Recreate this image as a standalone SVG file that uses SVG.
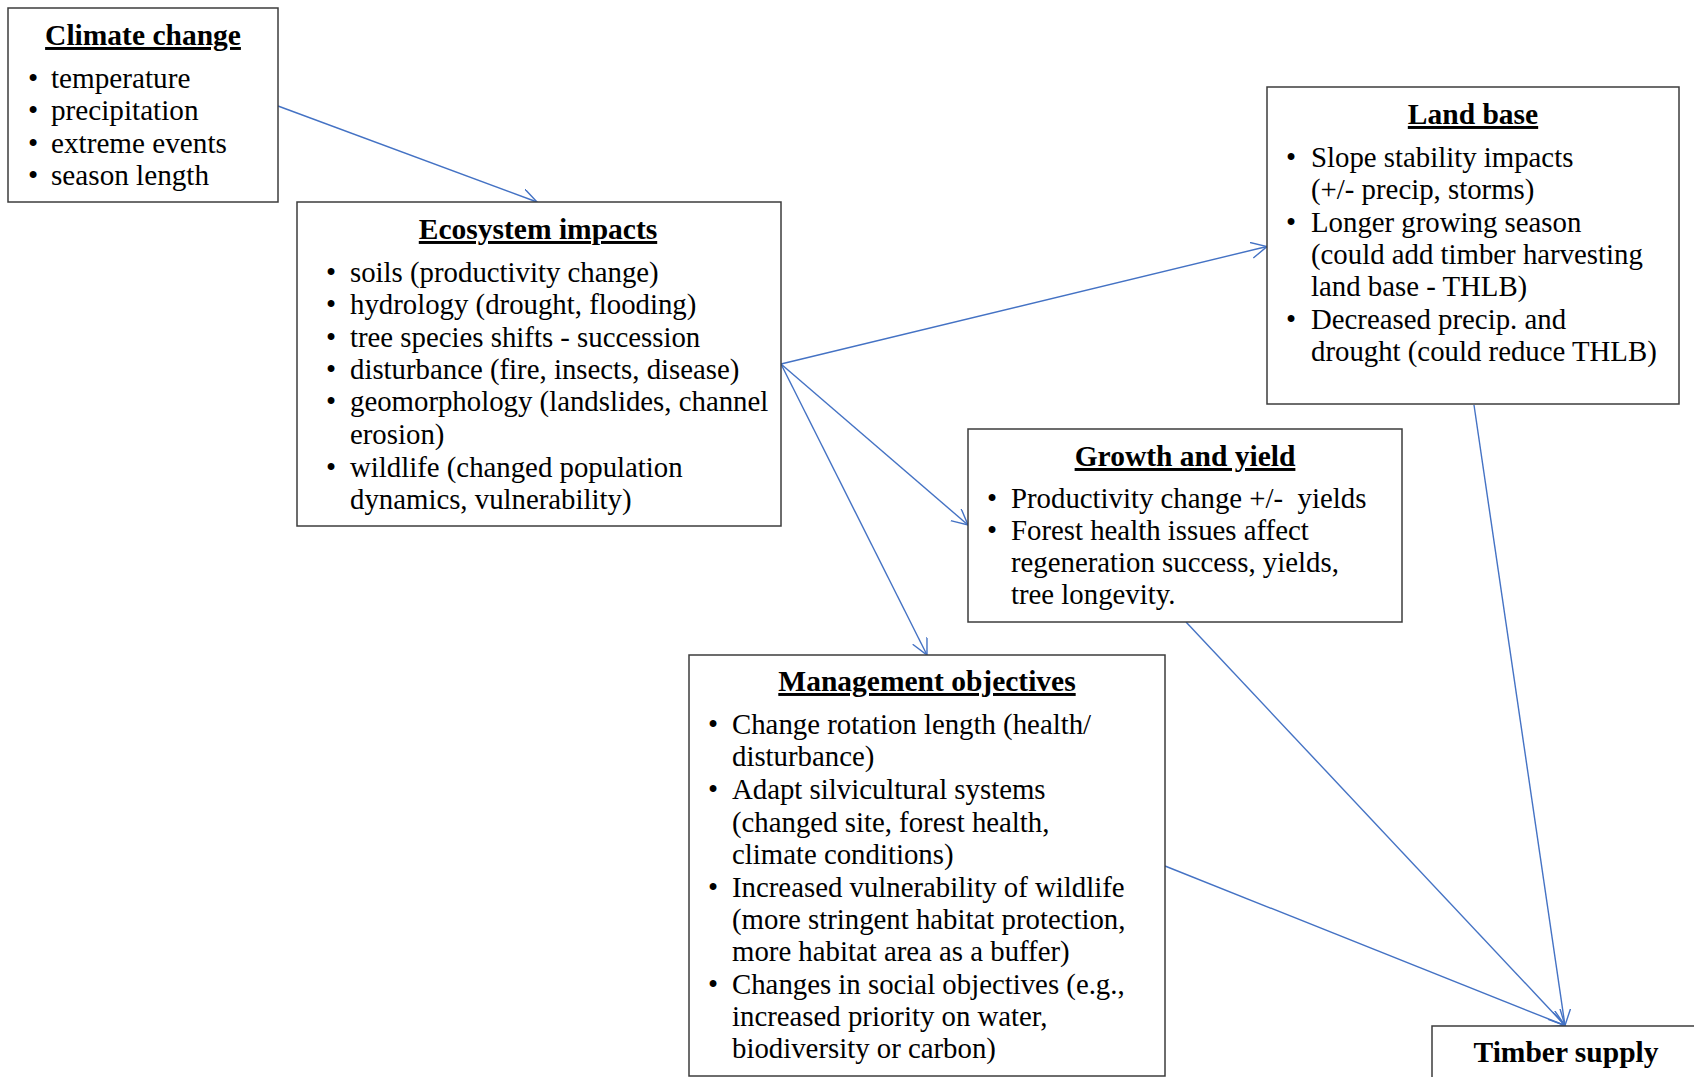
<svg xmlns="http://www.w3.org/2000/svg" width="1694" height="1077" viewBox="0 0 1694 1077">
<style>
.box{fill:#fff;stroke:#3c3c3c;stroke-width:1.5}
.t{font-family:"Liberation Serif","Times New Roman",serif;font-size:29.5px;font-weight:bold;text-anchor:middle;text-decoration:underline;fill:#000}
.b{font-family:"Liberation Serif","Times New Roman",serif;font-size:28.8px;fill:#000}
.c{fill:none;stroke:#4472C4;stroke-width:1.4;marker-end:url(#ah)}
</style>
<defs>
<marker id="ah" markerUnits="userSpaceOnUse" markerWidth="20" markerHeight="20" refX="16" refY="8" orient="auto">
<path d="M0,0 L16,8 L0,16" fill="none" stroke="#4472C4" stroke-width="1.4"/>
</marker>
</defs>
<rect width="1694" height="1077" fill="#fff"/>
<g id="connectors">
<line class="c" x1="278" y1="106" x2="537" y2="202"/>
<line class="c" x1="781" y1="364" x2="1267" y2="246.5"/>
<line class="c" x1="781" y1="364" x2="968" y2="525"/>
<line class="c" x1="781" y1="364" x2="927" y2="655"/>
<line class="c" x1="1474" y1="405" x2="1565" y2="1025.5"/>
<line class="c" x1="1186" y1="622" x2="1565" y2="1025.5"/>
<line class="c" x1="1165" y1="866" x2="1565" y2="1025.5"/>
</g>
<g id="climate-change">
<rect class="box" x="8" y="8" width="270" height="194"/>
<text class="t" x="143" y="45">Climate change</text>
<g class="b" style="font-size:29.2px" transform="translate(0,0.5)">
<text x="28" y="87">•</text><text x="51" y="87">temperature</text>
<text x="28" y="119">•</text><text x="51" y="119">precipitation</text>
<text x="28" y="152">•</text><text x="51" y="152">extreme events</text>
<text x="28" y="184">•</text><text x="51" y="184">season length</text>
</g>
</g>
<g id="ecosystem-impacts">
<rect class="box" x="297" y="202" width="484" height="324"/>
<text class="t" x="538" y="239">Ecosystem impacts</text>
<g class="b" transform="translate(0,1)">
<text x="326" y="281">•</text><text x="350" y="281">soils (productivity change)</text>
<text x="326" y="313">•</text><text x="350" y="313">hydrology (drought, flooding)</text>
<text x="326" y="346">•</text><text x="350" y="346">tree species shifts - succession</text>
<text x="326" y="378">•</text><text x="350" y="378">disturbance (fire, insects, disease)</text>
<text x="326" y="410">•</text><text x="350" y="410">geomorphology (landslides, channel</text>
<text x="350" y="443">erosion)</text>
<text x="326" y="476">•</text><text x="350" y="476">wildlife (changed population</text>
<text x="350" y="508">dynamics, vulnerability)</text>
</g>
</g>
<g id="land-base">
<rect class="box" x="1267" y="87" width="412" height="317"/>
<text class="t" x="1473" y="124">Land base</text>
<g class="b" transform="translate(0,1)">
<text x="1286" y="166">•</text><text x="1311" y="166">Slope stability impacts</text>
<text x="1311" y="198">(+/- precip, storms)</text>
<text x="1286" y="231">•</text><text x="1311" y="231">Longer growing season</text>
<text x="1311" y="263">(could add timber harvesting</text>
<text x="1311" y="295">land base - THLB)</text>
<text x="1286" y="328">•</text><text x="1311" y="328">Decreased precip. and</text>
<text x="1311" y="360">drought (could reduce THLB)</text>
</g>
</g>
<g id="growth-and-yield">
<rect class="box" x="968" y="429" width="434" height="193"/>
<text class="t" x="1185" y="466">Growth and yield</text>
<g class="b" transform="translate(0,1)">
<text x="987" y="507">•</text><text x="1011" y="507" xml:space="preserve">Productivity change +/-  yields</text>
<text x="987" y="539">•</text><text x="1011" y="539">Forest health issues affect</text>
<text x="1011" y="571">regeneration success, yields,</text>
<text x="1011" y="603">tree longevity.</text>
</g>
</g>
<g id="management-objectives">
<rect class="box" x="689" y="655" width="476" height="421"/>
<text class="t" x="927" y="691">Management objectives</text>
<g class="b" transform="translate(0,1)">
<text x="708" y="733">•</text><text x="732" y="733">Change rotation length (health/</text>
<text x="732" y="765">disturbance)</text>
<text x="708" y="798">•</text><text x="732" y="798">Adapt silvicultural systems</text>
<text x="732" y="831">(changed site, forest health,</text>
<text x="732" y="863">climate conditions)</text>
<text x="708" y="896">•</text><text x="732" y="896">Increased vulnerability of wildlife</text>
<text x="732" y="928">(more stringent habitat protection,</text>
<text x="732" y="960">more habitat area as a buffer)</text>
<text x="708" y="993">•</text><text x="732" y="993">Changes in social objectives (e.g.,</text>
<text x="732" y="1025">increased priority on water,</text>
<text x="732" y="1057">biodiversity or carbon)</text>
</g>
</g>
<g id="timber-supply">
<rect class="box" x="1432" y="1026" width="270" height="60"/>
<text class="t" x="1566" y="1062" style="text-decoration:none">Timber supply</text>
</g>
</svg>
